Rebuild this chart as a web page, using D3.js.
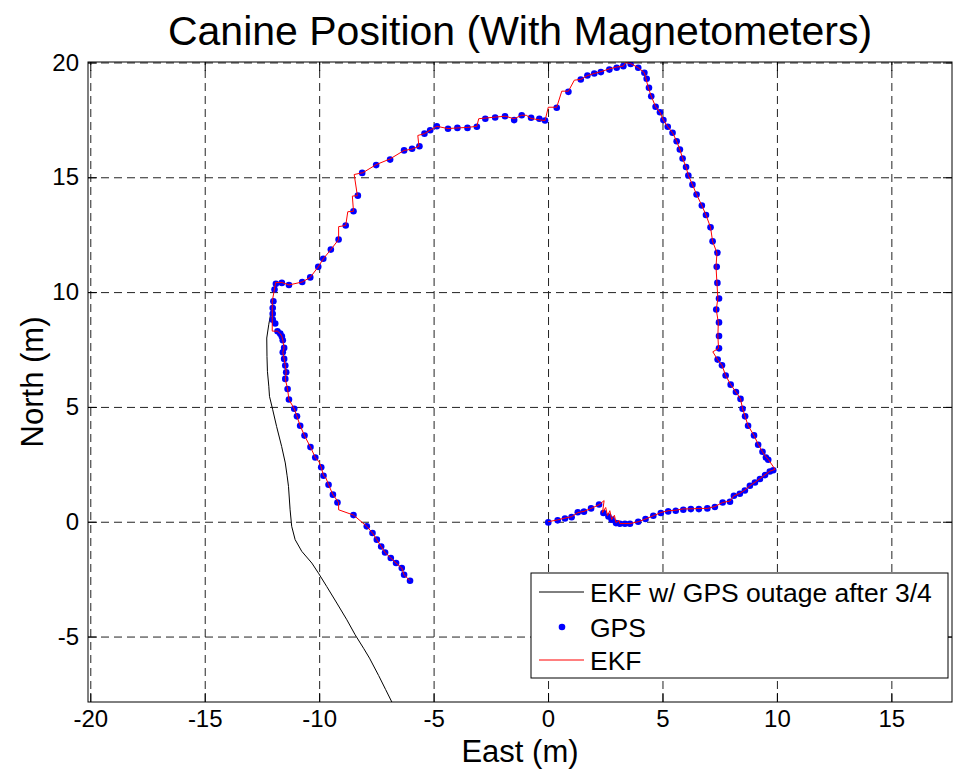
<!DOCTYPE html>
<html>
<head>
<meta charset="utf-8">
<script src="https://d3js.org/d3.v7.min.js"></script>
<style>
  body { margin: 0; background: #fff; }
  text { font-family: Arial, "Liberation Sans", sans-serif; fill: #000; }
</style>
</head>
<body>
<script>
// tick values
var xTicks = [-20, -15, -10, -5, 0, 5, 10, 15];
var yTicks = [-5, 0, 5, 10, 15, 20];

// GPS fixes [east, north] in metres
var gps = [
  [0.01,-0.03],[0.42,0.06],[0.74,0.14],[1.03,0.2],[1.3,0.41],[1.57,0.44],[1.88,0.58],[2.23,0.75],
  [2.42,0.38],[2.64,0.23],[2.78,0.09],[2.97,-0.06],[3.14,-0.09],[3.36,-0.09],[3.58,-0.09],[3.94,0.0],
  [4.26,0.12],[4.6,0.26],[4.93,0.38],[5.25,0.45],[5.58,0.48],[5.91,0.52],[6.24,0.55],[6.59,0.55],
  [6.96,0.58],[7.29,0.64],[7.63,0.84],[7.95,0.87],[8.12,1.13],[8.38,1.22],[8.6,1.36],[8.82,1.57],
  [9.04,1.71],[9.26,1.86],[9.48,2.03],[9.69,2.19],[9.84,2.24],
  [9.62,2.7],[9.52,2.8],[9.37,3.05],[9.18,3.35],[9.0,3.76],[8.74,4.18],[8.61,4.59],[8.5,4.92],
  [8.41,5.35],[8.21,5.65],[7.98,5.97],[7.76,6.37],[7.6,6.81],[7.41,7.06],[7.47,7.55],[7.47,8.09],
  [7.47,8.68],[7.35,9.24],[7.47,9.72],[7.4,10.4],[7.37,11.1],[7.4,11.71],[7.19,12.21],[7.1,12.82],
  [6.9,13.36],[6.72,13.77],[6.49,14.25],[6.31,14.68],[6.13,15.08],[6.03,15.45],[5.88,15.82],[5.76,16.21],
  [5.62,16.57],[5.44,16.94],[5.23,17.2],[5.04,17.49],[4.89,17.83],[4.7,18.07],[4.51,18.53],[4.41,18.9],
  [4.31,19.29],[4.21,19.55],[3.94,19.77],[3.61,19.93],[3.29,19.84],[3.0,19.77],[2.68,19.69],[2.31,19.58],
  [2.02,19.52],[1.72,19.43],[1.43,19.26],[0.89,18.72],[0.38,18.03],[-0.13,17.47],
  [-0.38,17.55],[-0.74,17.59],[-1.15,17.7],[-1.48,17.49],[-1.88,17.66],[-2.31,17.6],[-2.74,17.55],
  [-3.11,17.2],[-3.52,17.15],[-3.96,17.15],[-4.37,17.11],[-4.86,17.22],[-5.15,17.05],[-5.4,16.9],
  [-5.62,16.35],[-5.94,16.24],[-6.29,16.17],[-6.9,15.77],[-7.51,15.53],[-8.12,15.19],
  [-8.31,14.2],[-8.5,13.52],[-8.84,12.9],[-9.15,12.29],[-9.49,11.85],[-9.82,11.45],[-10.04,11.1],
  [-10.39,10.64],[-10.74,10.44],[-11.32,10.31],[-11.63,10.4],[-11.89,10.36],[-11.95,10.11],[-12.0,9.6],
  [-12.03,9.31],[-12.03,9.06],[-12.03,8.8],[-11.92,8.63],[-11.82,8.29],[-11.7,8.19],[-11.63,8.07],
  [-11.59,7.9],[-11.53,7.57],[-11.59,7.38],[-11.53,7.09],[-11.48,6.8],[-11.44,6.51],[-11.48,6.22],
  [-11.38,5.78],[-11.32,5.32],[-11.09,4.92],[-10.97,4.59],[-10.83,4.18],[-10.64,3.75],[-10.38,3.25],
  [-10.17,2.8],[-9.91,2.37],[-9.81,2.0],[-9.59,1.61],[-9.4,1.18],[-9.2,0.84],[-8.5,0.29],[-7.92,-0.2],
  [-7.67,-0.49],[-7.48,-0.78],[-7.29,-1.08],[-7.12,-1.34],[-6.87,-1.58],[-6.64,-1.8],[-6.39,-2.02],
  [-6.29,-2.31],[-6.03,-2.57]
];

// EKF estimate
var ekf = [
  [0,0],[0.42,0.08],[0.74,0.16],[1.03,0.22],[1.3,0.4],[1.57,0.45],[1.88,0.58],[2.23,0.74],[2.45,0.92],
  [2.38,0.4],[2.52,0.62],[2.6,0.26],[2.7,0.48],[2.78,0.1],[2.9,0.28],[2.97,-0.04],[3.1,0.06],[3.14,-0.08],
  [3.36,-0.08],[3.58,-0.08],[3.94,0.0],[4.26,0.12],[4.6,0.26],[4.93,0.4],[5.25,0.48],[5.58,0.5],
  [5.91,0.56],[6.24,0.56],[6.59,0.58],[6.96,0.58],[7.29,0.66],[7.63,0.84],[7.95,0.9],[8.12,1.13],
  [8.38,1.24],[8.6,1.38],[8.82,1.57],[9.04,1.72],[9.26,1.88],[9.48,2.04],[9.69,2.2],[9.92,2.28],
  [9.62,2.72],[9.52,2.82],[9.37,3.05],[9.18,3.37],[9.0,3.76],[8.74,4.18],[8.61,4.59],[8.5,4.92],
  [8.41,5.35],[8.21,5.65],[7.98,5.97],[7.76,6.37],[7.6,6.81],[7.41,7.06],[7.2,7.4],[7.45,7.55],
  [7.42,8.09],[7.44,8.68],[7.35,9.24],[7.42,9.72],[7.38,10.4],[7.34,11.1],[7.38,11.71],[7.19,12.21],
  [7.1,12.82],[6.9,13.36],[6.72,13.77],[6.49,14.25],[6.31,14.68],[6.13,15.08],[6.03,15.45],[5.88,15.82],
  [5.76,16.21],[5.62,16.57],[5.44,16.94],[5.23,17.2],[5.04,17.49],[4.89,17.83],[4.7,18.07],[4.51,18.53],
  [4.38,18.9],[4.28,19.29],[4.21,19.55],[3.94,19.77],[3.61,19.95],[3.4,20.0],[3.29,19.84],[3.0,19.8],
  [2.68,19.72],[2.31,19.6],[2.02,19.52],[1.72,19.43],[1.43,19.26],[1.15,19.23],[0.89,18.75],[0.6,18.75],
  [0.38,18.05],[0.01,18.05],[-0.13,17.47],
  [-0.38,17.5],[-0.74,17.56],[-0.95,17.7],[-1.15,17.7],[-1.48,17.55],[-1.88,17.66],[-2.31,17.62],
  [-2.74,17.58],[-3.03,17.55],[-3.11,17.22],[-3.52,17.17],[-3.96,17.15],[-4.37,17.12],[-4.86,17.22],
  [-5.15,17.05],[-5.4,16.9],[-5.69,16.82],[-5.64,16.35],[-5.97,16.22],[-6.29,16.17],[-6.9,15.8],
  [-7.51,15.55],[-8.09,15.2],[-8.47,15.12],[-8.33,14.2],
  [-8.55,14.18],[-8.5,13.52],[-8.75,13.5],[-8.84,12.9],[-9.15,12.85],[-9.15,12.29],[-9.49,11.85],
  [-9.82,11.45],[-10.04,11.1],[-10.39,10.64],[-10.74,10.44],[-11.32,10.31],[-11.63,10.42],[-11.9,10.42],
  [-12.05,9.6],[-12.05,9.31],[-12.05,8.8],[-12.05,8.3],[-11.82,8.3],[-11.7,8.19],[-11.63,8.07],
  [-11.59,7.9],[-11.53,7.57],[-11.59,7.38],[-11.53,7.09],[-11.48,6.8],[-11.44,6.51],[-11.48,6.22],
  [-11.38,5.78],[-11.32,5.32],[-11.09,4.92],[-10.97,4.59],[-10.83,4.18],[-10.64,3.75],[-10.38,3.25],
  [-10.17,2.8],[-10.0,2.6],[-9.91,2.37],[-9.81,2.0],[-9.7,1.9],[-9.59,1.61],[-9.4,1.18],[-9.15,0.84],
  [-9.15,0.52],[-8.5,0.29],[-7.92,-0.2],[-7.67,-0.49],[-7.48,-0.78],[-7.29,-1.08],[-7.12,-1.34],
  [-6.87,-1.58],[-6.64,-1.8],[-6.39,-2.02],[-6.29,-2.31],[-6.03,-2.57]
];

// EKF run with GPS cut after 3/4 of the walk
var outage = [
  [-12.0,9.6],[-12.11,9.09],[-12.2,8.6],[-12.29,8.0],[-12.28,7.2],[-12.26,6.55],[-12.2,5.9],
  [-12.17,5.46],[-12.03,4.88],[-11.86,4.15],[-11.64,3.28],[-11.48,2.56],[-11.4,2.0],[-11.34,1.54],
  [-11.27,0.52],[-11.2,-0.2],[-11.05,-0.78],[-10.76,-1.29],[-10.32,-1.8],[-10.03,-2.24],[-9.67,-2.82],
  [-9.23,-3.54],[-8.79,-4.27],[-8.43,-4.92],[-8.06,-5.51],[-7.8,-5.94],[-7.4,-6.7],[-7.1,-7.3],[-6.8,-7.9]
];

var legendLabels = ["EKF w/ GPS outage after 3/4", "GPS", "EKF"];

var width = 953, height = 772;
var margin = {top: 62, right: 1, bottom: 70, left: 88};
var w = width - margin.left - margin.right;
var h = height - margin.top - margin.bottom;

var svg = d3.select("body").append("svg")
    .attr("width", width)
    .attr("height", height);

var x = d3.scaleLinear().domain([-20.1, 17.65]).range([0, w]);
var y = d3.scaleLinear().domain([-7.85, 20.02]).range([h, 0]);

// plain hyphen for negatives, like the original
var fmt = function(d) { return String(d); };

var g = svg.append("g").attr("transform", "translate(" + margin.left + "," + margin.top + ")");

g.append("clipPath").attr("id", "clip")
  .append("rect").attr("width", w).attr("height", h);

// dashed grid
g.append("g").attr("class", "grid")
  .attr("transform", "translate(0," + h + ")")
  .call(d3.axisBottom(x).tickValues(xTicks).tickSize(-h).tickFormat(""));
g.append("g").attr("class", "grid")
  .call(d3.axisLeft(y).tickValues(yTicks).tickSize(-w).tickFormat(""));
g.selectAll(".grid .domain").remove();
g.selectAll(".grid line")
  .attr("stroke", "#222")
  .attr("stroke-dasharray", "8,5");

var line = d3.line().x(function(d) { return x(d[0]); }).y(function(d) { return y(d[1]); });

var data = g.append("g").attr("clip-path", "url(#clip)");

data.append("path").datum(outage)
  .attr("d", line).attr("fill", "none").attr("stroke", "#000").attr("stroke-width", 1);

data.selectAll("circle").data(gps).enter().append("circle")
  .attr("cx", function(d) { return x(d[0]); })
  .attr("cy", function(d) { return y(d[1]); })
  .attr("r", 3.3)
  .attr("fill", "#0000ff");

data.append("path").datum(ekf)
  .attr("d", line).attr("fill", "none").attr("stroke", "#ff0000").attr("stroke-width", 1);

// axes with inward ticks
g.append("g").attr("transform", "translate(0," + h + ")")
  .call(d3.axisBottom(x).tickValues(xTicks).tickFormat(fmt).tickSizeInner(-9).tickSizeOuter(0).tickPadding(8));
g.append("g")
  .call(d3.axisLeft(y).tickValues(yTicks).tickFormat(fmt).tickSizeInner(-9).tickSizeOuter(0).tickPadding(9));
g.append("g")
  .call(d3.axisTop(x).tickValues(xTicks).tickSizeInner(-9).tickSizeOuter(0).tickFormat(""));
g.append("g").attr("transform", "translate(" + w + ",0)")
  .call(d3.axisRight(y).tickValues(yTicks).tickSizeInner(-9).tickSizeOuter(0).tickFormat(""));
g.selectAll(".domain").remove();
g.selectAll(".tick text").attr("font-size", 24).attr("font-family", "Arial, 'Liberation Sans', sans-serif");

g.append("rect").attr("width", w).attr("height", h)
  .attr("fill", "none").attr("stroke", "#000").attr("stroke-width", 1);

// title and axis labels
svg.append("text")
  .attr("x", margin.left + w / 2).attr("y", 45)
  .attr("text-anchor", "middle").attr("font-size", 41)
  .text("Canine Position (With Magnetometers)");

svg.append("text")
  .attr("x", margin.left + w / 2).attr("y", 762)
  .attr("text-anchor", "middle").attr("font-size", 31)
  .text("East (m)");

svg.append("text")
  .attr("transform", "translate(43," + (margin.top + h / 2) + ") rotate(-90)")
  .attr("text-anchor", "middle").attr("font-size", 31)
  .text("North (m)");

// legend
var lg = svg.append("g").attr("transform", "translate(531,573)");
lg.append("rect").attr("width", 417).attr("height", 105)
  .attr("fill", "#fff").attr("stroke", "#000").attr("stroke-width", 1);
var rowY = [19, 54, 87];
lg.append("line").attr("x1", 8).attr("x2", 53).attr("y1", rowY[0]).attr("y2", rowY[0])
  .attr("stroke", "#000").attr("stroke-width", 1);
lg.append("circle").attr("cx", 31).attr("cy", rowY[1]).attr("r", 3.3).attr("fill", "#0000ff");
lg.append("line").attr("x1", 8).attr("x2", 53).attr("y1", rowY[2]).attr("y2", rowY[2])
  .attr("stroke", "#ff0000").attr("stroke-width", 1);
lg.selectAll("text.lab").data(legendLabels).enter().append("text")
  .attr("class", "lab")
  .attr("x", 59)
  .attr("y", function(d, i) { return rowY[i] + 9.5; })
  .attr("font-size", 26.5)
  .text(function(d) { return d; });
</script>
</body>
</html>
